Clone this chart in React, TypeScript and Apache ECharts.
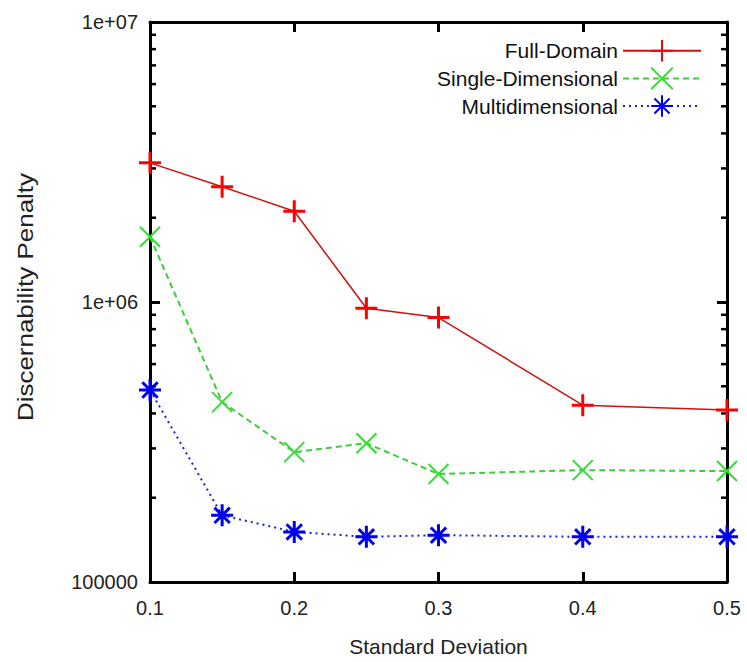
import React, { useEffect, useRef } from "react";
import * as echarts from "echarts";

const xValues = [0.1, 0.15, 0.2, 0.25, 0.3, 0.4, 0.5];
const fullDomain = [3.14e6, 2.58e6, 2.11e6, 9.5e5, 8.8e5, 4.28e5, 4.11e5];
const singleDimensional = [1.71e6, 4.39e5, 2.91e5, 3.13e5, 2.43e5, 2.51e5, 2.49e5];
const multidimensional = [4.85e5, 1.73e5, 1.51e5, 1.45e5, 1.47e5, 1.45e5, 1.45e5];
const seriesNames = ["Full-Domain", "Single-Dimensional", "Multidimensional"];
const xMin = 0.1;
const xMax = 0.5;
const xInterval = 0.1;
const yMin = 1e5;
const yMax = 1e7;
const yMinorTicks = [2e5, 3e5, 4e5, 5e5, 6e5, 7e5, 8e5, 9e5, 2e6, 3e6, 4e6, 5e6, 6e6, 7e6, 8e6, 9e6];
const xAxisTitle = "Standard Deviation";
const yAxisTitle = "Discernability Penalty";

const plusPath = "path://M0,10L20,10M10,0L10,20";
const crossPath = "path://M0,0L20,20M0,20L20,0";
const starPath = "path://M0,10L20,10M10,0L10,20M3,3L17,17M3,17L17,3";

const FONT = "'Liberation Sans', Arial, sans-serif";

function yLabel(v: number): string {
  if (v >= 1e6 - 1) {
    const e = Math.round(Math.log10(v));
    return "1e+" + (e < 10 ? "0" + e : String(e));
  }
  return String(Math.round(v));
}

export default function App() {
  const ref = useRef<HTMLDivElement>(null);
  useEffect(() => {
    if (!ref.current) return;
    const chart = echarts.init(ref.current, undefined, { renderer: "svg" });
    const axisLine = { show: true, lineStyle: { color: "#000", width: 3 } };
    const mkData = (vals: number[]) => xValues.map((x, i) => [x, vals[i]]);
    chart.setOption({
      animation: false,
      backgroundColor: "#fff",
      grid: { left: 150, right: 20, top: 22, bottom: 80, containLabel: false },
      legend: {
        data: seriesNames,
        orient: "vertical",
        align: "right",
        right: 40,
        top: 34,
        itemWidth: 78,
        itemHeight: 27,
        itemGap: 4,
        textStyle: { fontFamily: FONT, fontSize: 21, color: "#111" },
      },
      graphic: [
        {
          type: "text",
          x: 25,
          y: 297,
          rotation: Math.PI / 2,
          scaleX: 1.18,
          style: {
            text: yAxisTitle,
            fontFamily: FONT,
            fontSize: 22,
            fill: "#222",
            align: "center",
            verticalAlign: "middle",
          },
        },
      ],
      xAxis: [
        {
          type: "value",
          min: xMin,
          max: xMax,
          interval: xInterval,
          position: "bottom",
          axisLine,
          axisTick: { show: true, inside: true, length: 10, lineStyle: { color: "#000", width: 3 } },
          axisLabel: {
            margin: 16,
            fontFamily: FONT,
            fontSize: 20,
            color: "#222",
            formatter: (v: number) => v.toFixed(1),
          },
          splitLine: { show: false },
          name: xAxisTitle,
          nameLocation: "middle",
          nameGap: 54,
          nameTextStyle: { fontFamily: FONT, fontSize: 21, color: "#222" },
        },
        {
          type: "value",
          min: xMin,
          max: xMax,
          interval: xInterval,
          position: "top",
          axisLine,
          axisTick: { show: true, inside: true, length: 10, lineStyle: { color: "#000", width: 3 } },
          axisLabel: { show: false },
          splitLine: { show: false },
        },
      ],
      yAxis: [
        {
          type: "log",
          logBase: 10,
          min: yMin,
          max: yMax,
          position: "left",
          axisLine,
          axisTick: { show: true, inside: true, length: 10, lineStyle: { color: "#000", width: 3 } },
          axisLabel: {
            margin: 12,
            fontFamily: FONT,
            fontSize: 20,
            color: "#222",
            formatter: (v: number) => yLabel(v),
          },
          splitLine: { show: false },
        },
        {
          type: "log",
          logBase: 10,
          min: yMin,
          max: yMax,
          position: "right",
          axisLine,
          axisTick: { show: true, inside: true, length: 10, lineStyle: { color: "#000", width: 3 } },
          axisLabel: { show: false },
          splitLine: { show: false },
        },
      ],
      series: [
        {
          name: seriesNames[0],
          type: "line",
          data: mkData(fullDomain),
          symbol: plusPath,
          symbolSize: 22,
          clip: false,
          lineStyle: { color: "#d01010", width: 1.5, type: "solid" },
          itemStyle: { color: "#ff0000", borderColor: "#ff0000", borderWidth: 3 },
          z: 5,
        },
        {
          name: seriesNames[1],
          type: "line",
          data: mkData(singleDimensional),
          symbol: crossPath,
          symbolSize: 20,
          clip: false,
          lineStyle: { color: "#3ccc3c", width: 2, type: [6, 4] },
          itemStyle: { color: "#33dd33", borderColor: "#33dd33", borderWidth: 2 },
          z: 4,
        },
        {
          name: seriesNames[2],
          type: "line",
          data: mkData(multidimensional),
          symbol: starPath,
          symbolSize: 22,
          clip: false,
          lineStyle: { color: "#2020cc", width: 2, type: [2, 4] },
          itemStyle: { color: "#0000ee", borderColor: "#0000ee", borderWidth: 3 },
          z: 3,
        },
        {
          name: "minorTicks",
          type: "custom",
          xAxisIndex: 0,
          yAxisIndex: 0,
          clip: false,
          silent: true,
          data: yMinorTicks.map((v) => [xMin, v]),
          renderItem: (_params: any, api: any) => {
            const v = api.value(1);
            const pl = api.coord([xMin, v]);
            const pr = api.coord([xMax, v]);
            return {
              type: "group",
              children: [
                { type: "line", shape: { x1: pl[0], y1: pl[1], x2: pl[0] + 6, y2: pl[1] }, style: { stroke: "#000", lineWidth: 2.5 } },
                { type: "line", shape: { x1: pr[0] - 6, y1: pr[1], x2: pr[0], y2: pr[1] }, style: { stroke: "#000", lineWidth: 2.5 } },
              ],
            };
          },
        },
      ],
    });
    return () => chart.dispose();
  }, []);
  return <div ref={ref} style={{ width: 747, height: 662, position: "absolute", left: 0, top: 0 }} />;
}
